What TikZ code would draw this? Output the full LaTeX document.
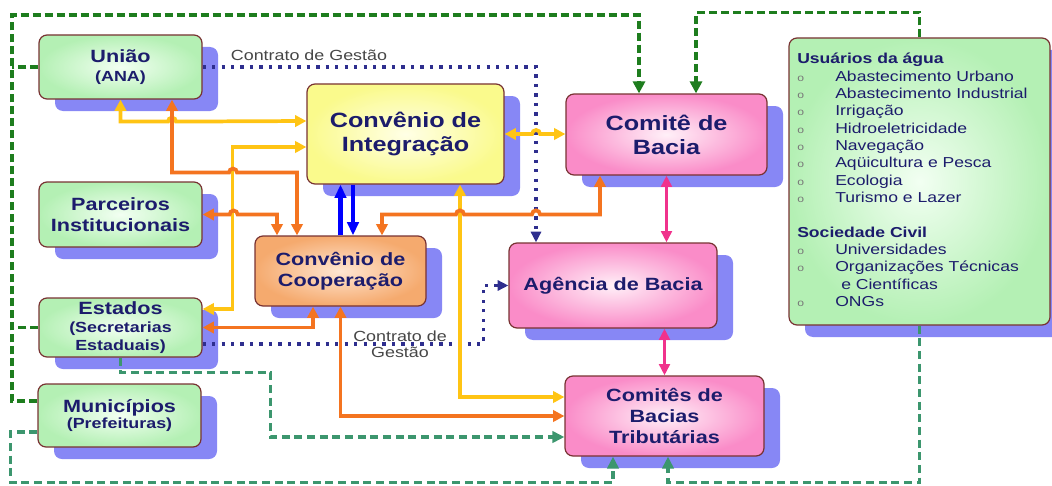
\documentclass[tikz,border=0pt]{standalone}
\usepackage{fontspec}
\setmainfont{Liberation Sans}[FakeStretch=1.22]
\usetikzlibrary{arrows.meta,calc,shadows}

\def\px{0.75pt}
\definecolor{txtblue}{RGB}{28,28,108}
\definecolor{shadowblue}{RGB}{135,135,245}
\definecolor{boxline}{RGB}{120,50,50}
\definecolor{greenout}{RGB}{180,240,180}
\definecolor{greenin}{RGB}{242,255,242}
\definecolor{yellowout}{RGB}{250,250,140}
\definecolor{yellowin}{RGB}{255,255,230}
\definecolor{pinkout}{RGB}{250,140,200}
\definecolor{pinkin}{RGB}{255,240,248}
\definecolor{orangeout}{RGB}{245,170,110}
\definecolor{orangein}{RGB}{255,230,210}
\definecolor{ylw}{RGB}{255,196,20}
\definecolor{org}{RGB}{244,116,32}
\definecolor{dkgreen}{RGB}{30,125,30}
\definecolor{mdgreen}{RGB}{60,150,110}
\definecolor{dotblue}{RGB}{46,46,142}
\definecolor{pinkline}{RGB}{240,50,140}
\definecolor{lblgray}{RGB}{70,70,70}
\definecolor{bulgray}{RGB}{120,120,120}

\newcommand\bul[1]{\makebox[28.5pt][l]{\textcolor{bulgray}{\fontsize{7.5}{7.5}\selectfont o}}#1}

\begin{document}
\begin{tikzpicture}[x=\px, y=-\px,
    box/.style={draw=boxline, line width=0.9pt, rounded corners=6pt,
      general shadow={fill=shadowblue, shadow xshift=12pt, shadow yshift=-9pt},
      text=txtblue, align=center, inner sep=2pt},
    gbox/.style={box, inner color=greenin, outer color=greenout},
    ybox/.style={box, inner color=yellowin, outer color=yellowout},
    pbox/.style={box, inner color=pinkin, outer color=pinkout},
    obox/.style={box, inner color=orangein, outer color=orangeout},
    big/.style={font=\bfseries\fontsize{15.5}{18}\selectfont},
    mid/.style={font=\bfseries\fontsize{13.3}{15.5}\selectfont},
    tight/.style={font=\bfseries\fontsize{13.3}{13.6}\selectfont},
    lbl/.style={text=lblgray, align=center, inner sep=1pt, font=\fontsize{11}{12}\selectfont},
    ya/.style={draw=ylw, line width=2.8pt, >={Triangle[length=8.5pt,width=8.5pt]}, <->},
    oa/.style={draw=org, line width=2.8pt, >={Triangle[length=8.5pt,width=8.5pt]}, <->},
    pa/.style={draw=pinkline, line width=2.8pt, >={Triangle[length=8.5pt,width=8pt]}, <->},
    ba/.style={draw=blue, line width=3.2pt, >={Triangle[length=10pt,width=8.5pt]}},
    gd/.style={draw=dkgreen, line width=2.6pt, dash pattern=on 6pt off 3pt, >={Triangle[length=9pt,width=9pt]}},
    gm/.style={draw=mdgreen, line width=2.4pt, dash pattern=on 6pt off 3.5pt, >={Triangle[length=9pt,width=8.5pt]}},
    nd/.style={draw=dotblue, line width=2.5pt, dash pattern=on 2.5pt off 4.6pt, >={Triangle[length=8pt,width=7.5pt]}}]
    \useasboundingbox (0,0) rectangle (1052,485);

    \node[gbox, tight, minimum width=163*\px, minimum height=64*\px] (uniao) at (120.5,67)
      {União\\[0.6pt] {\fontsize{11}{13}\selectfont (ANA)}};
    \node[gbox, mid, minimum width=163*\px, minimum height=65*\px] (parc) at (120.5,214.5)
      {Parceiros\\Institucionais};
    \node[gbox, tight, minimum width=163*\px, minimum height=59*\px, inner sep=0pt] (estados) at (120.5,327.5)
      {Estados\\ {\fontsize{11}{13}\selectfont (Secretarias}\\ {\fontsize{11}{13}\selectfont Estaduais)}};
    \node[gbox, tight, minimum width=163*\px, minimum height=63*\px] (munic) at (119.5,415.5)
      {Municípios\\[-1pt] {\fontsize{11}{13}\selectfont (Prefeituras)}};
    \node[ybox, big, minimum width=197*\px, minimum height=100*\px] (integ) at (405.5,134)
      {Convênio de\\Integração};
    \node[pbox, big, minimum width=201*\px, minimum height=81*\px] (comite) at (666.5,134.5)
      {Comitê de\\Bacia};
    \node[obox, mid, minimum width=171*\px, minimum height=70*\px] (coop) at (340.5,271)
      {Convênio de\\Cooperação};
    \node[pbox, mid, minimum width=208*\px, minimum height=85*\px] (agencia) at (613,285.5)
      {Agência de Bacia};
    \node[pbox, mid, minimum width=199*\px, minimum height=80*\px] (trib) at (664.5,416)
      {Comitês de\\Bacias\\Tributárias};
    \node[gbox, minimum width=261*\px, minimum height=287*\px] (usu) at (919.5,181.5) {};
    \node[anchor=north west, inner sep=0pt, text=txtblue, align=left,
      font=\fontsize{10.8}{13}\selectfont] (usutxt) at (797,53)
      {{\bfseries Usuários da água}\\
       \bul{Abastecimento Urbano}\\
       \bul{Abastecimento Industrial}\\
       \bul{Irrigação}\\
       \bul{Hidroeletricidade}\\
       \bul{Navegação}\\
       \bul{Aqüicultura e Pesca}\\
       \bul{Ecologia}\\
       \bul{Turismo e Lazer}\\[13pt]
       {\bfseries Sociedade Civil}\\
       \bul{Universidades}\\
       \bul{Organizações Técnicas}\\
       \hspace*{33pt}e Científicas\\
       \bul{ONGs}};

    \node[lbl] (cg1) at (309,55) {Contrato de Gestão};
    \node[lbl] (cg2) at (400,344) {Contrato de\\Gestão};

    \coordinate (gtop) at (12,15);
    \draw[gd, ->] ($(munic.west)+(0,-14.5)$) -| (gtop) -| ($(comite.north)+(-27.5,0)$);
    \draw[gd] (uniao.west) -- (uniao.west -| gtop);
    \draw[gd] (estados.west) -- (estados.west -| gtop);
    \draw[gd, ->] (usu.north) -- ++(0,-25) -| ($(comite.north)+(29.5,0)$);

    \draw[gm, ->] (estados.south) -- ++(0,15) -| ($(trib.west)+(-294,21)$) -- ($(trib.west)+(0,21)$);
    \draw[gm, ->] ($(munic.west)+(0,16.5)$) -- ++(-27,0) |- ($(trib.south)+(-51.5,26)$) -- ($(trib.south)+(-51.5,0)$);
    \draw[gm, ->] (usu.south) -- ++(0,157) -| ($(trib.south)+(3.5,0)$);

    \draw[nd, ->] (uniao.east) -| ($(agencia.north)+(-77,0)$);
    \draw[nd, ->] ($(estados.east)+(0,16.5)$) -| ($(agencia.west)+(-25,0)$) -- (agencia.west);

    \draw[ya] (uniao.south) -- ++(0,22) -- ++(47.5,0) arc[start angle=180,end angle=360,radius=4] -- ($(integ.west)+(0,-13)$);
    \draw[ya] ($(estados.east)+(0,-18.5)$) -| ($(integ.west)+(-74,13)$) -- ($(integ.west)+(0,13)$);
    \draw[ya] ($(integ.south)+(54.5,0)$) |- ($(trib.west)+(0,-19)$);
    \draw[ya] (integ.east) -- ++(27.5,0) arc[start angle=180,end angle=360,radius=4] -- (comite.west |- integ.east);

    \draw[oa] ($(uniao.south)+(51.5,0)$) -- ++(0,73) -- ++(57,0) arc[start angle=180,end angle=360,radius=4] -| ($(coop.north)+(-43.5,0)$);
    \draw[oa] (parc.east) -- ++(27,0) arc[start angle=180,end angle=360,radius=4] -| ($(coop.north)+(-63.5,0)$);
    \draw[oa] ($(coop.north)+(41.5,0)$) -- ++(0,-21) -- ++(74,0) arc[start angle=180,end angle=360,radius=4]
      -- ++(68,0) arc[start angle=180,end angle=360,radius=4] -| ($(comite.south)+(-66.5,0)$);
    \draw[oa] (estados.east) -| ($(coop.south)+(-27.5,0)$);
    \draw[oa] (coop.south) |- (trib.west);

    \coordinate (bdn) at ($(integ.south)+(-52.5,0)$);
    \draw[ba, ->] (coop.north) -- (coop.north |- integ.south);
    \draw[ba, ->] (bdn) -- (bdn |- coop.north);

    \draw[pa] (comite.south) -- (comite.south |- agencia.north);
    \draw[pa] (trib.north) -- (trib.north |- agencia.south);
\end{tikzpicture}
\end{document}
